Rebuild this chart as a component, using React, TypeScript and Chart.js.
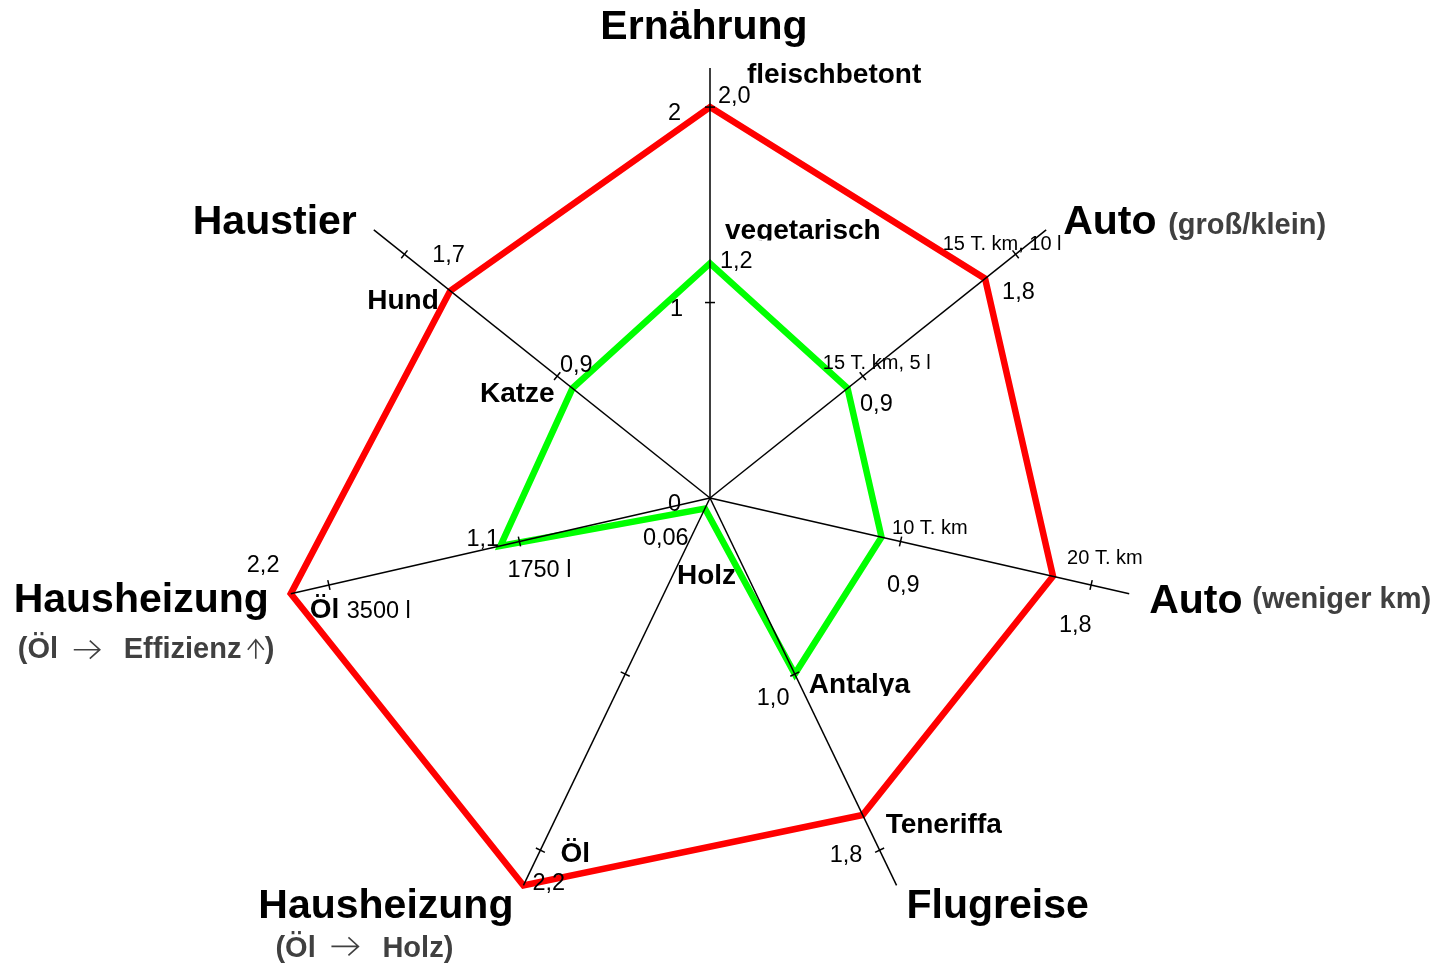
import React, { useEffect, useRef } from "react";
import { Chart, registerables } from "chart.js";

Chart.register(...registerables);

// ---- data ----
const axisNames = [
  "Ernährung",
  "Auto (groß/klein)",
  "Auto (weniger km)",
  "Flugreise",
  "Hausheizung (Öl → Holz)",
  "Hausheizung (Öl → Effizienz ↑)",
  "Haustier",
];
const highValues = [2.0, 1.8, 1.8, 1.8, 2.2, 2.2, 1.7];
const lowValues = [1.2, 0.9, 0.9, 1.0, 0.06, 1.1, 0.9];
const scaleMax = 2.2;
const tickValues = [1, 2];

// ---- annotation text (anchored to axis/value, offsets in px) ----
type Ann = { axis: number; value: number; text: string; dx: number; dy: number; style: string; align?: CanvasTextAlign; clip?: number };
const annotations: Ann[] = [
  { axis: 0, value: 2.2, text: "Ernährung", dx: -6, dy: -29, style: "title", align: "center" },
  { axis: 0, value: 2.0, text: "fleischbetont", dx: 37, dy: -24, style: "label" },
  { axis: 0, value: 2.0, text: "2,0", dx: 8, dy: -4, style: "num" },
  { axis: 0, value: 2.0, text: "2", dx: -42, dy: 13, style: "num" },
  { axis: 0, value: 1.2, text: "vegetarisch", dx: 15, dy: -24.5, style: "label", clip: 1.5 },
  { axis: 0, value: 1.2, text: "1,2", dx: 10, dy: 4.5, style: "num" },
  { axis: 0, value: 1.0, text: "1", dx: -40, dy: 13, style: "num" },
  { axis: 0, value: 0, text: "0", dx: -42, dy: 13, style: "num" },

  { axis: 1, value: 2.2, text: "Auto", dx: 17, dy: 4, style: "title" },
  { axis: 1, value: 2.2, text: "(groß/klein)", dx: 122, dy: 4, style: "sub" },
  { axis: 1, value: 2.0, text: "15 T. km, 10 l", dx: -73, dy: -4, style: "small" },
  { axis: 1, value: 1.8, text: "1,8", dx: 17, dy: 20, style: "num" },
  { axis: 1, value: 1.0, text: "15 T. km, 5 l", dx: -40, dy: -7, style: "small" },
  { axis: 1, value: 0.9, text: "0,9", dx: 12.5, dy: 23, style: "num" },

  { axis: 2, value: 2.2, text: "Auto", dx: 20, dy: 19, style: "title" },
  { axis: 2, value: 2.2, text: "(weniger km)", dx: 123, dy: 14, style: "sub" },
  { axis: 2, value: 1.0, text: "10 T. km", dx: -8.5, dy: -7.5, style: "small" },
  { axis: 2, value: 0.9, text: "0,9", dx: 5.5, dy: 55, style: "num" },
  { axis: 2, value: 2.0, text: "20 T. km", dx: -24, dy: -21, style: "small" },
  { axis: 2, value: 1.8, text: "1,8", dx: 6, dy: 56, style: "num" },

  { axis: 3, value: 2.2, text: "Flugreise", dx: 10, dy: 33, style: "title" },
  { axis: 3, value: 1.0, text: "Antalya", dx: 14, dy: 19, style: "label", clip: 3 },
  { axis: 3, value: 1.0, text: "1,0", dx: -38, dy: 31, style: "num" },
  { axis: 3, value: 1.8, text: "Teneriffa", dx: 23, dy: 18, style: "label" },
  { axis: 3, value: 1.8, text: "1,8", dx: -33, dy: 47, style: "num" },

  { axis: 4, value: 2.2, text: "Hausheizung", dx: -10, dy: 33, style: "title", align: "right" },
  { axis: 4, value: 2.2, text: "(Öl", dx: -248, dy: 72, style: "sub" },
  { axis: 4, value: 2.2, text: "Holz)", dx: -141, dy: 72, style: "sub" },
  { axis: 4, value: 0.06, text: "Holz", dx: -28, dy: 75, style: "label" },
  { axis: 4, value: 0.06, text: "0,06", dx: -62, dy: 36, style: "num" },
  { axis: 4, value: 2.2, text: "Öl", dx: 37, dy: -23, style: "label" },
  { axis: 4, value: 2.2, text: "2,2", dx: 9, dy: 5, style: "num" },

  { axis: 5, value: 2.2, text: "Hausheizung", dx: -22, dy: 18, style: "title", align: "right" },
  { axis: 5, value: 2.2, text: "(Öl", dx: -273, dy: 64, style: "sub" },
  { axis: 5, value: 2.2, text: "Effizienz", dx: -167, dy: 64, style: "sub" },
  { axis: 5, value: 2.2, text: ")", dx: -26, dy: 64, style: "sub" },
  { axis: 5, value: 2.2, text: "2,2", dx: -44, dy: -22, style: "num" },
  { axis: 5, value: 2.2, text: "Öl", dx: 19, dy: 24, style: "label" },
  { axis: 5, value: 2.2, text: "3500 l", dx: 56, dy: 24, style: "num" },
  { axis: 5, value: 1.1, text: "1,1", dx: -34, dy: 0, style: "num" },
  { axis: 5, value: 1.1, text: "1750 l", dx: 7, dy: 31, style: "num" },

  { axis: 6, value: 2.2, text: "Haustier", dx: -17, dy: 4, style: "title", align: "right" },
  { axis: 6, value: 1.7, text: "1,7", dx: -18, dy: -29, style: "num" },
  { axis: 6, value: 1.7, text: "Hund", dx: -83, dy: 18, style: "label" },
  { axis: 6, value: 0.9, text: "0,9", dx: -12.5, dy: -16, style: "num" },
  { axis: 6, value: 0.9, text: "Katze", dx: -92.5, dy: 14, style: "label" },
];

type Arrow = { axis: number; value: number; dx: number; dy: number; len: number; dir: "right" | "up" };
const arrows: Arrow[] = [
  { axis: 4, value: 2.2, dx: -192, dy: 61, len: 27, dir: "right" },
  { axis: 5, value: 2.2, dx: -217, dy: 56, len: 26, dir: "right" },
  { axis: 5, value: 2.2, dx: -35, dy: 65, len: 19, dir: "up" },
];

const FAMILY = "'Liberation Sans', Arial, Helvetica, sans-serif";
const styles: Record<string, { font: string; color: string }> = {
  title: { font: `bold 41px ${FAMILY}`, color: "#000" },
  sub: { font: `bold 29px ${FAMILY}`, color: "#404040" },
  label: { font: `bold 28px ${FAMILY}`, color: "#000" },
  num: { font: `23.5px ${FAMILY}`, color: "#000" },
  small: { font: `20px ${FAMILY}`, color: "#000" },
};

const overlayPlugin = {
  id: "overlay",
  afterDatasetsDraw(chart: any) {
    const ctx: CanvasRenderingContext2D = chart.ctx;
    const r = chart.scales.r;
    const n = chart.data.labels.length;
    ctx.save();
    // axes on top of the data lines
    ctx.strokeStyle = "#000";
    ctx.lineWidth = 1.5;
    for (let i = 0; i < n; i++) {
      const c = r.getPointPositionForValue(i, 0);
      const e = r.getPointPositionForValue(i, scaleMax);
      ctx.beginPath();
      ctx.moveTo(c.x, c.y);
      ctx.lineTo(e.x, e.y);
      ctx.stroke();
      for (const v of tickValues) {
        const p = r.getPointPositionForValue(i, v);
        const a = r.getIndexAngle(i) - Math.PI / 2;
        const px = -Math.sin(a);
        const py = Math.cos(a);
        ctx.beginPath();
        ctx.moveTo(p.x - px * 5, p.y - py * 5);
        ctx.lineTo(p.x + px * 5, p.y + py * 5);
        ctx.stroke();
      }
    }
    // texts
    ctx.textBaseline = "alphabetic";
    for (const a of annotations) {
      const p = r.getPointPositionForValue(a.axis, a.value);
      const st = styles[a.style];
      ctx.font = st.font;
      ctx.fillStyle = st.color;
      ctx.textAlign = a.align || "left";
      const x = p.x + a.dx;
      const y = p.y + a.dy;
      if (a.clip != null) {
        ctx.save();
        ctx.beginPath();
        ctx.rect(0, 0, chart.width, y + a.clip);
        ctx.clip();
        ctx.fillText(a.text, x, y);
        ctx.restore();
      } else {
        ctx.fillText(a.text, x, y);
      }
    }
    // arrows
    ctx.strokeStyle = "#404040";
    ctx.lineWidth = 1.6;
    for (const ar of arrows) {
      const p = r.getPointPositionForValue(ar.axis, ar.value);
      const x = p.x + ar.dx;
      const y = p.y + ar.dy;
      ctx.beginPath();
      if (ar.dir === "right") {
        ctx.moveTo(x, y);
        ctx.lineTo(x + ar.len, y);
        ctx.moveTo(x + ar.len - 10, y - 9);
        ctx.lineTo(x + ar.len, y);
        ctx.lineTo(x + ar.len - 10, y + 9);
      } else {
        ctx.moveTo(x, y);
        ctx.lineTo(x, y - ar.len);
        ctx.moveTo(x - 8, y - ar.len + 10);
        ctx.lineTo(x, y - ar.len);
        ctx.lineTo(x + 8, y - ar.len + 10);
      }
      ctx.stroke();
    }
    ctx.restore();
  },
};

export default function App() {
  const ref = useRef<HTMLCanvasElement | null>(null);
  useEffect(() => {
    if (!ref.current) return;
    const chart = new Chart(ref.current, {
      type: "radar",
      data: {
        labels: axisNames,
        datasets: [
          {
            label: "hoch",
            data: highValues,
            borderColor: "#ff0000",
            backgroundColor: "rgba(0,0,0,0)",
            borderWidth: 6.5,
            borderJoinStyle: "miter",
            fill: false,
            pointRadius: 0,
            pointHoverRadius: 0,
            tension: 0,
          },
          {
            label: "niedrig",
            data: lowValues,
            borderColor: "#00ff00",
            backgroundColor: "rgba(0,0,0,0)",
            borderWidth: 6.5,
            borderJoinStyle: "miter",
            fill: false,
            pointRadius: 0,
            pointHoverRadius: 0,
            tension: 0,
          },
        ],
      },
      options: {
        responsive: false,
        maintainAspectRatio: false,
        animation: false,
        layout: { padding: { left: 280, right: 296, top: 68, bottom: 37 } },
        plugins: { legend: { display: false }, tooltip: { enabled: false } },
        scales: {
          r: {
            min: 0,
            max: scaleMax,
            grid: { display: false },
            angleLines: { display: false },
            ticks: { display: false },
            pointLabels: { display: false },
          },
        },
      },
      plugins: [overlayPlugin],
    } as any);
    return () => chart.destroy();
  }, []);
  return (
    <div style={{ position: "fixed", left: 0, top: 0, width: 1436, height: 965, background: "#fff" }}>
      <canvas ref={ref} width={1436} height={965} style={{ display: "block" }} />
    </div>
  );
}
